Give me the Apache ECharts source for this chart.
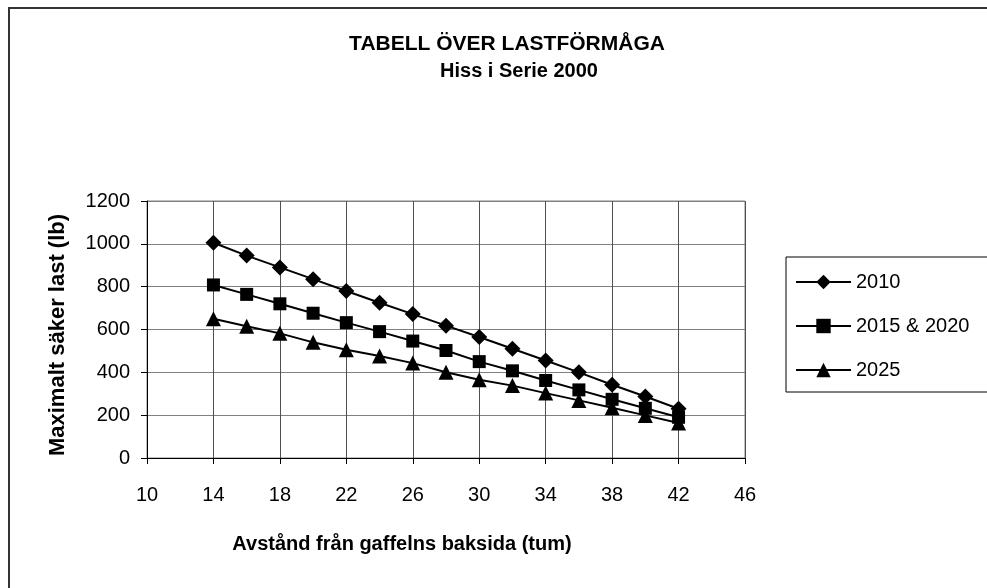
<!DOCTYPE html>
<html>
<head>
<meta charset="utf-8">
<script src="https://cdn.jsdelivr.net/npm/echarts@6/dist/echarts.min.js"></script>
<style>
html,body{margin:0;padding:0;background:#fff;}
#c{width:987px;height:588px;}
</style>
</head>
<body>
<div id="c"></div>
<script>
const distances = [14, 16, 18, 20, 22, 24, 26, 28, 30, 32, 34, 36, 38, 40, 42];
const load2010 = [1005, 945, 890, 835, 780, 725, 672, 618, 565, 510, 455, 400, 342, 287, 230];
const load2015_2020 = [808, 764, 720, 676, 632, 590, 546, 502, 450, 407, 362, 318, 274, 232, 190];
const load2025 = [650, 615, 582, 540, 505, 476, 443, 400, 365, 338, 303, 269, 235, 199, 163];
const seriesNames = ['2010', '2015 & 2020', '2025'];
const titleText = 'TABELL ÖVER LASTFÖRMÅGA';
const subtitleText = 'Hiss i Serie 2000';
const xAxisName = 'Avstånd från gaffelns baksida (tum)';
const yAxisName = 'Maximalt säker last (lb)';

const font = 'Liberation Sans, Arial, sans-serif';
function pairs(vals){ return distances.map((d,i)=>[d, vals[i]]); }

const chart = echarts.init(document.getElementById('c'), null, {renderer:'canvas'});
const mk = (name, vals, symbol, size) => ({
  name, type:'line', data: pairs(vals), symbol, symbolSize:size,
  lineStyle:{color:'#000', width:2}, itemStyle:{color:'#000'},
  animation:false, z:3
});
chart.setOption({
  backgroundColor:'#fff',
  animation:false,
  textStyle:{fontFamily:font},
  graphic:[
    {type:'rect', shape:{x:9, y:8, width:1000, height:600}, style:{fill:'none', stroke:'#333', lineWidth:2}, silent:true, z:0},
    {type:'text', style:{text:titleText, x:507, y:44, align:'center', verticalAlign:'middle', font:'bold 21px ' + font, fill:'#000'}},
    {type:'text', style:{text:subtitleText, x:519, y:71, align:'center', verticalAlign:'middle', font:'bold 20px ' + font, fill:'#000'}},
    {type:'text', style:{text:xAxisName, x:402, y:544, align:'center', verticalAlign:'middle', font:'bold 20px ' + font, fill:'#000'}},
    {type:'text', rotation:Math.PI/2, x:58, y:335, style:{text:yAxisName, x:0, y:0, align:'center', verticalAlign:'middle', font:'bold 22px ' + font, fill:'#000'}}
  ],
  grid:{left:147, right:242, top:201, bottom:130, show:true, borderColor:'#808080', borderWidth:1, backgroundColor:'transparent'},
  legend:{
    orient:'vertical', left:786, top:257,
    data:seriesNames,
    itemWidth:55, itemHeight:18, itemGap:24,
    padding:[15, 40, 12, 9],
    borderColor:'#000', borderWidth:1,
    textStyle:{fontSize:20, color:'#000', fontFamily:font}
  },
  xAxis:{
    type:'value', min:10, max:46, interval:4,
    axisLine:{show:true, lineStyle:{color:'#000', width:1}},
    axisTick:{show:true, length:6, lineStyle:{color:'#000'}},
    axisLabel:{fontSize:20, color:'#000', margin:27, fontFamily:font},
    splitLine:{show:true, lineStyle:{color:'#505050', width:1}}
  },
  yAxis:{
    type:'value', min:0, max:1200, interval:200,
    axisLine:{show:true, lineStyle:{color:'#000', width:1}},
    axisTick:{show:true, length:6, lineStyle:{color:'#000'}},
    axisLabel:{fontSize:20, color:'#000', margin:17, fontFamily:font, formatter:(v)=>String(v)},
    splitLine:{show:true, lineStyle:{color:'#808080', width:1}}
  },
  series:[
    mk(seriesNames[0], load2010, 'diamond', 16),
    mk(seriesNames[1], load2015_2020, 'rect', 13),
    mk(seriesNames[2], load2025, 'triangle', 15)
  ]
});
</script>
</body>
</html>
